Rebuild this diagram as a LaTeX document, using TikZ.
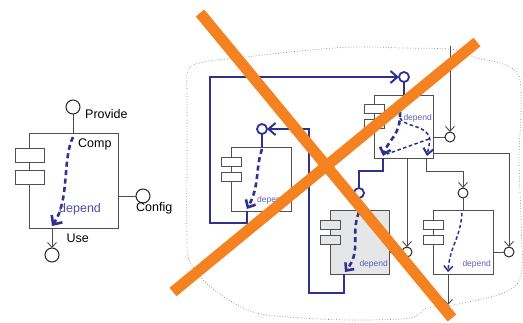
\documentclass[tikz,border=0pt]{standalone}
\usepackage{fontspec}
\setmainfont{Liberation Sans}
\usetikzlibrary{arrows.meta,positioning,calc}
\definecolor{wireBlue}{RGB}{46,49,146}
\definecolor{labelBlue}{RGB}{96,96,182}
\definecolor{crossOrange}{RGB}{244,130,32}
\definecolor{boxGray}{RGB}{80,80,80}
\definecolor{shadeGray}{RGB}{229,230,232}

\begin{document}
\begin{tikzpicture}[x=1pt,y=-1pt,
    comp/.style={draw=boxGray, line width=1pt, fill=white, anchor=north west,
      inner sep=0, outer sep=0},
    tab/.style={draw=boxGray, line width=1pt, fill=white, inner sep=0, outer sep=0,
      minimum width=20pt, minimum height=9pt},
    iface/.style={circle, draw=black!85, line width=1pt, fill=white,
      minimum size=10pt, inner sep=0, outer sep=0},
    bigiface/.style={iface, minimum size=14pt},
    biface/.style={iface, draw=wireBlue, line width=1.8pt},
    wire/.style={draw=black!70, line width=0.9pt},
    bwire/.style={draw=wireBlue, line width=2pt},
    dep/.style={wireBlue, line width=2.6pt, dash pattern=on 5pt off 3.5pt},
    depthin/.style={wireBlue, line width=1.5pt, dash pattern=on 3.5pt off 2.5pt},
    lbl/.style={font=\fontsize{12.5}{14}\selectfont, inner sep=0, anchor=base west},
    dlbl/.style={font=\fontsize{8.5}{10}\selectfont, text=labelBlue, inner sep=0,
      anchor=base west},
    cross/.style={crossOrange, line width=11pt},
    >={Straight Barb[length=5pt,width=9pt]}
  ]
  \useasboundingbox (0,0) rectangle (523,322);

  % single component
  \node[comp, minimum width=89pt, minimum height=95pt] (comp) at (29,133) {};
  \node[tab, minimum width=29pt, minimum height=14pt] (ctab1) at (29.5,155) {};
  \node[tab, minimum width=29pt, minimum height=14pt] (ctab2) at (29.5,177) {};
  \node[bigiface] (prov) at (73,107) {};
  \node[bigiface] (conf) at (143,196) {};
  \node[bigiface] (use) at (52,255) {};
  \draw[wire] (prov) -- (prov |- comp.north);
  \draw[wire] (comp.east |- conf) -- (conf);
  \draw[wire,->] (comp.south -| use) -- (use);
  \draw[dep,-{Straight Barb[length=7pt,width=13pt]}] (73,137)
    .. controls (62,160) and (70,200) .. (52,226);
  \node[lbl] (provL) at (85,118.5) {Provide};
  \node[lbl] (compL) at (78,147.5) {Comp};
  \node[lbl, text=wireBlue!85] (depL) at (59,212.5) {depend};
  \node[lbl] (confL) at (136,211.5) {Config};
  \node[lbl] (useL) at (66.5,242.5) {Use};

  % assembly boundary
  \draw[gray, dotted, line width=0.7pt] plot[smooth cycle, tension=0.55] coordinates {
    (188,70) (203,62) (237,58) (300,51) (353,47) (403,48) (450,49) (463,53)
    (477,58) (503,64) (519,76) (521,110) (519,160) (521,220) (521,275)
    (503,293) (453,305) (427,308) (410,318) (353,320) (303,318) (253,312)
    (213,289) (190,262) (187,237) (187,150) (187,95)};

  % components
  \node[comp, minimum width=60pt, minimum height=64pt] (compA) at (231,147) {};
  \node[tab] (atab1) at (231,161.5) {};
  \node[tab] (atab2) at (231,176.5) {};
  \node[comp, minimum width=59pt, minimum height=63pt] (compB) at (374,95) {};
  \node[tab] (btab1) at (374,109) {};
  \node[tab] (btab2) at (374,124) {};
  \node[comp, fill=shadeGray, minimum width=59pt, minimum height=64pt] (compC) at (330,210) {};
  \node[tab, fill=shadeGray] (ctabC1) at (330,225) {};
  \node[tab, fill=shadeGray] (ctabC2) at (330,239.5) {};
  \node[comp, minimum width=60pt, minimum height=64pt] (compD) at (433,210) {};
  \node[tab] (dtab1) at (433,225) {};
  \node[tab] (dtab2) at (433,239.5) {};

  % interfaces
  \node[biface] (pA) at (262,129) {};
  \node[biface] (pB) at (404,77) {};
  \node[biface] (pC) at (359,193) {};
  \node[iface] (pBr) at (450,137) {};
  \node[iface] (pCr) at (407,252) {};
  \node[iface] (pD) at (463,193) {};
  \node[iface] (pDr) at (509,252) {};

  \coordinate (aOut) at (247,211);
  \coordinate (bOutL) at (383,158);
  \coordinate (bOutM) at (407,158);
  \coordinate (bOutR) at (426,158);
  \coordinate (bSide) at (433,153);
  \coordinate (cOut) at (344,274);
  \coordinate (dOut) at (448,274);
  \coordinate (dEnd) at (448,305);
  \coordinate (extTop) at (450,46);

  % stems
  \draw[bwire] (pA) -- (pA |- compA.north);
  \draw[bwire] (pB) -- (pB |- compB.north);
  \draw[bwire] (pC) -- (pC |- compC.north);
  \draw[wire] (compB.east |- pBr) -- (pBr);
  \draw[wire] (compC.east |- pCr) -- (pCr);
  \draw[wire] (pD) -- (pD |- compD.north);
  \draw[wire] (compD.east |- pDr) -- (pDr);

  % depend paths inside
  \draw[dep,-{Straight Barb[length=6pt,width=11pt]}] (262,149)
    .. controls (255,170) and (260,185) .. (247,209);
  \draw[dep,-{Straight Barb[length=6pt,width=11pt]}] (400,112)
    .. controls (401,135) and (388,140) .. (383,156);
  \draw[depthin,-{Straight Barb[length=6pt,width=10pt,line width=2pt]}] (400,118)
    .. controls (405,128) and (428,124) .. (430,140) -- (427,156);
  \draw[depthin] (429,139) -- (387,154);
  \draw[dep,-{Straight Barb[length=6pt,width=11pt]}] (359,212)
    .. controls (350,235) and (362,250) .. (345,272);
  \draw[depthin,-{Straight Barb[length=5pt,width=9pt]}] (462,213)
    .. controls (460,240) and (450,245) .. (448,272);
  \node[dlbl] (depA) at (257,202.7) {depend};
  \node[dlbl] (depB) at (403.3,120) {depend};
  \node[dlbl] (depC) at (359.3,266.7) {depend};
  \node[dlbl] (depD) at (462.3,266.7) {depend};

  % connectors
  \draw[bwire,-{Straight Barb[length=7pt,width=12pt]}] (aOut) -- (247,223) -- (210,223)
    -- (210,77) -- (pB);
  \draw[bwire,-{Straight Barb[length=7pt,width=12pt]}] (cOut) -- (344,293) -- (309,293)
    -- (309,129) -- (pA);
  \draw[bwire] (bOutL) -- (383,171) -- (359,171) -- (pC);
  \draw[wire,->] (extTop) -- (pBr);
  \draw[wire,->] (bOutM) -- (pCr);
  \draw[wire,->] (bOutR) -- (426,171) -- (463,171) -- (pD);
  \draw[wire,->] (bSide) -- (509,153) -- (pDr);
  \draw[wire,->] (dOut) -- (dEnd);

  % crossed out
  \draw[cross] (200,13) -- (452,318);
  \draw[cross] (477,42) -- (173,292);
\end{tikzpicture}
\end{document}
